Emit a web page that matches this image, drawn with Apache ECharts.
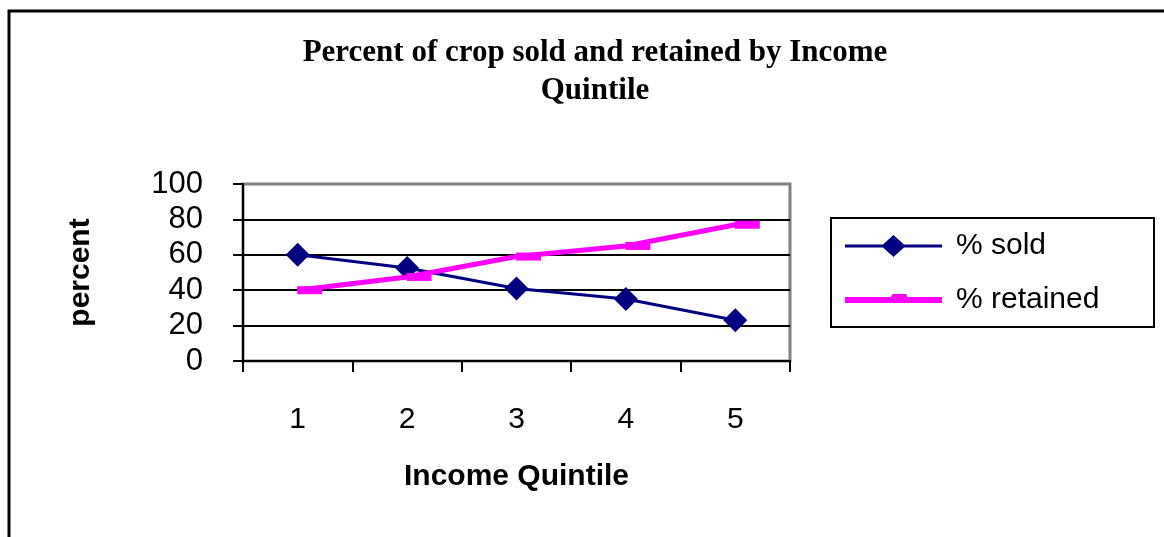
<!DOCTYPE html>
<html>
<head>
<meta charset="utf-8">
<script src="https://cdn.jsdelivr.net/npm/echarts@6/dist/echarts.min.js"></script>
<style>html,body{margin:0;padding:0;background:#fff;}#c{width:1164px;height:537px;}</style>
</head>
<body>
<div id="c"></div>
<script>
const categories = ['1', '2', '3', '4', '5'];
const soldValues = [60, 52.5, 41, 35, 23];
const retainedValues = [40, 47.5, 59, 65, 77];
const yTicks = { min: 0, max: 100, interval: 20 };
const titleText = 'Percent of crop sold and retained by Income\nQuintile';

const soldIcon = 'path://M0 9.5 L38 9.5 L48.5 0 L59 9.5 L97 9.5 L97 12.5 L59 12.5 L48.5 22 L38 12.5 L0 12.5 Z';
const retainedIcon = 'path://M0 0 M97 22 M0 8 L46 8 L47.5 5 L61 5 L62.5 8 L97 8 L97 14 L0 14 Z';

const chart = echarts.init(document.getElementById('c'), null, { renderer: 'canvas' });
const sans = 'Liberation Sans, Arial, sans-serif';
chart.setOption({
  backgroundColor: '#fff',
  animation: false,
  title: {
    text: titleText,
    left: 590, top: 29, textAlign: 'center',
    textStyle: { fontFamily: 'Liberation Serif, Times New Roman, serif', fontWeight: 'bold', fontSize: 31, lineHeight: 38, color: '#000' }
  },
  graphic: [
    { type: 'polyline', shape: { points: [[9, 537], [9, 11], [1164, 11]] }, style: { stroke: '#000', lineWidth: 3, fill: null }, z: 10 },
    { type: 'rect', shape: { x: 831, y: 218, width: 323, height: 109 }, style: { stroke: '#000', lineWidth: 2, fill: '#fff' }, z: 1 }
  ],
  legend: {
    orient: 'vertical',
    left: 831, top: 218,
    padding: [13, 10, 12, 14],
    itemWidth: 97, itemHeight: 22, itemGap: 24,
    textStyle: { fontFamily: sans, fontSize: 30, lineHeight: 30, color: '#000', padding: [0, 0, 0, 9] },
    z: 5,
    data: [
      { name: '% sold', icon: soldIcon, itemStyle: { color: '#000080' } },
      { name: '% retained', icon: retainedIcon, itemStyle: { color: '#FF00FF' } }
    ]
  },
  grid: { left: 243, right: 374, top: 184, bottom: 176, show: true, borderColor: '#808080', borderWidth: 3, backgroundColor: 'transparent' },
  xAxis: {
    type: 'category', data: categories,
    name: 'Income Quintile', nameLocation: 'middle', nameGap: 101,
    nameTextStyle: { fontFamily: sans, fontWeight: 'bold', fontSize: 30, color: '#000' },
    axisLine: { lineStyle: { color: '#000', width: 2 } },
    axisTick: { show: true, length: 11, lineStyle: { color: '#000', width: 2 } },
    axisLabel: { fontFamily: sans, fontSize: 30, color: '#000', margin: 44 },
    splitLine: { show: false }
  },
  yAxis: {
    type: 'value', min: yTicks.min, max: yTicks.max, interval: yTicks.interval,
    name: 'percent', nameLocation: 'middle', nameGap: 147, nameRotate: 90,
    nameTextStyle: { fontFamily: sans, fontWeight: 'bold', fontSize: 30, color: '#000' },
    axisLine: { show: true, lineStyle: { color: '#000', width: 2 } },
    axisTick: { show: true, length: 10, lineStyle: { color: '#000', width: 2 } },
    axisLabel: { fontFamily: sans, fontSize: 31, color: '#000', margin: 40 },
    splitLine: { show: true, showMaxLine: false, lineStyle: { color: '#000', width: 2 } }
  },
  series: [
    {
      name: '% sold', type: 'line', data: soldValues,
      color: '#000080',
      lineStyle: { color: '#000080', width: 3 },
      itemStyle: { color: '#000080' },
      symbol: 'diamond', symbolSize: 24, showAllSymbol: true, z: 3
    },
    {
      name: '% retained', type: 'line', data: retainedValues,
      color: '#FF00FF',
      lineStyle: { color: '#FF00FF', width: 5 },
      itemStyle: { color: '#FF00FF' },
      symbol: 'rect', symbolSize: [25, 8], symbolOffset: [12, 0], showAllSymbol: true, z: 4
    }
  ]
});
</script>
</body>
</html>
